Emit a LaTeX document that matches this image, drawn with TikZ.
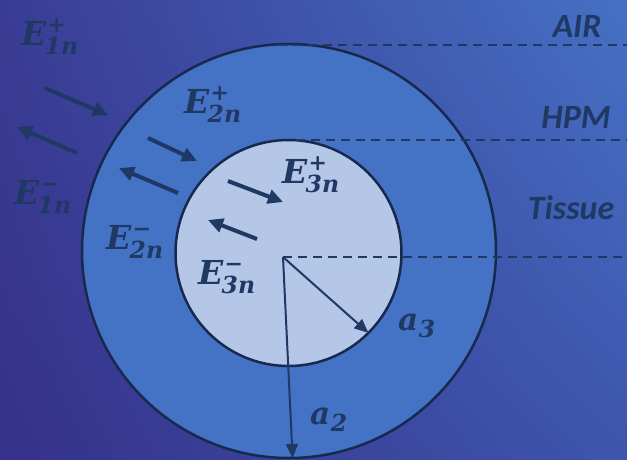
\documentclass[tikz,border=0pt]{standalone}
\usepackage{fontspec}
\usetikzlibrary{arrows.meta,shadings}
\newfontfamily\labfont{Carlito}
\newfontfamily\symfont{DejaVu Serif}
\definecolor{navy}{HTML}{203864}
\definecolor{rim}{HTML}{172A4E}
\definecolor{ring}{HTML}{4472C4}
\definecolor{core}{HTML}{B4C7E7}
\definecolor{bgul}{HTML}{3A3C94}
\definecolor{bgur}{HTML}{4571C4}
\definecolor{bgll}{HTML}{36318A}
\definecolor{bglr}{HTML}{3E55AC}
\newcommand\scrfont{\fontsize{23.5}{24}\selectfont}
\newcommand\fld[2]{\textbf{\textit{E}}\kern1pt\rlap{\raisebox{13pt}{\fontsize{22}{22}\selectfont\textbf{#1}}}\kern-3pt\raisebox{-9pt}{\scrfont\textbf{\textit{#2}}}}
\newcommand\rad[1]{\textbf{\textit{a}}\kern0.5pt\raisebox{-7pt}{\scrfont\textbf{\textit{#1}}}}
\tikzset{
  elabel/.style={anchor=base west, inner sep=0pt, text=navy, font=\symfont\fontsize{33}{40}\selectfont},
  alabel/.style={anchor=base west, inner sep=0pt, text=navy, font=\symfont\fontsize{31}{40}\selectfont},
  mlabel/.style={inner sep=0pt, text=navy, font=\labfont\bfseries\itshape\fontsize{34}{40}\selectfont},
  wave/.style={draw=navy, line width=4pt, -{Triangle[length=15pt,width=14pt]}},
  radius/.style={draw=navy, line width=2pt, -{Triangle[length=14pt,width=12pt]}},
  bound/.style={draw=navy, line width=2.5pt, dash pattern=on 9pt off 6pt},
  disc/.style={circle, inner sep=0pt, outer sep=0pt, draw=rim, line width=2.5pt},
}
\begin{document}
\begin{tikzpicture}[x=1pt,y=-1pt]
\useasboundingbox (0,0) rectangle (627,459);
\shade[upper left=bgul, upper right=bgur, lower left=bgll, lower right=bglr] (0,0) rectangle (627,459);
% circles
\node[disc, fill=ring, minimum size=414pt] (outer) at (289,251) {};
\node[disc, fill=core, minimum size=226pt] (inner) at (288.5,253) {};
\coordinate (O) at (283,257);
% boundary lines
\coordinate (b1s) at (278,45);  \coordinate (b1e) at (627,45);
\coordinate (b2s) at (296,140); \coordinate (b2e) at (627,140);
\coordinate (b3e) at (627,257);
\draw[bound] (b1s) -- (b1e);
\draw[bound] (b2s) -- (b2e);
\draw[bound] (O) -- (b3e);
% medium labels
\node[mlabel] (air) at (577,26) {AIR};
\node[mlabel] (hpm) at (576,117) {HPM};
\node[mlabel] (tis) at (571,208) {Tissue};
% field labels
\node[elabel] (e1p) at (21,45) {\fld{+}{1n}};
\node[elabel] (e1m) at (14,204) {\fld{−}{1n}};
\node[elabel] (e2p) at (184,113) {\fld{+}{2n}};
\node[elabel] (e2m) at (106,249) {\fld{−}{2n}};
\node[elabel] (e3p) at (282,183) {\fld{+}{3n}};
\node[elabel] (e3m) at (198,284) {\fld{−}{3n}};
% wave arrows
\coordinate (w1a) at (45,88);   \coordinate (w1b) at (108,115);
\coordinate (w2a) at (77,153);  \coordinate (w2b) at (17,127);
\coordinate (w3a) at (148,138); \coordinate (w3b) at (197,161);
\coordinate (w4a) at (178,193); \coordinate (w4b) at (119,168);
\coordinate (w5a) at (228,181); \coordinate (w5b) at (283,202);
\coordinate (w6a) at (257,239); \coordinate (w6b) at (208,220);
\draw[wave] (w1a) -- (w1b);
\draw[wave] (w2a) -- (w2b);
\draw[wave] (w3a) -- (w3b);
\draw[wave] (w4a) -- (w4b);
\draw[wave] (w5a) -- (w5b);
\draw[wave] (w6a) -- (w6b);
% radii
\draw[radius] (O) -- (inner.-45);
\draw[radius] (O) -- (outer.-89);
\node[alabel] (a3) at (398,330) {\rad{3}};
\node[alabel] (a2) at (310,424) {\rad{2}};
\end{tikzpicture}
\end{document}
